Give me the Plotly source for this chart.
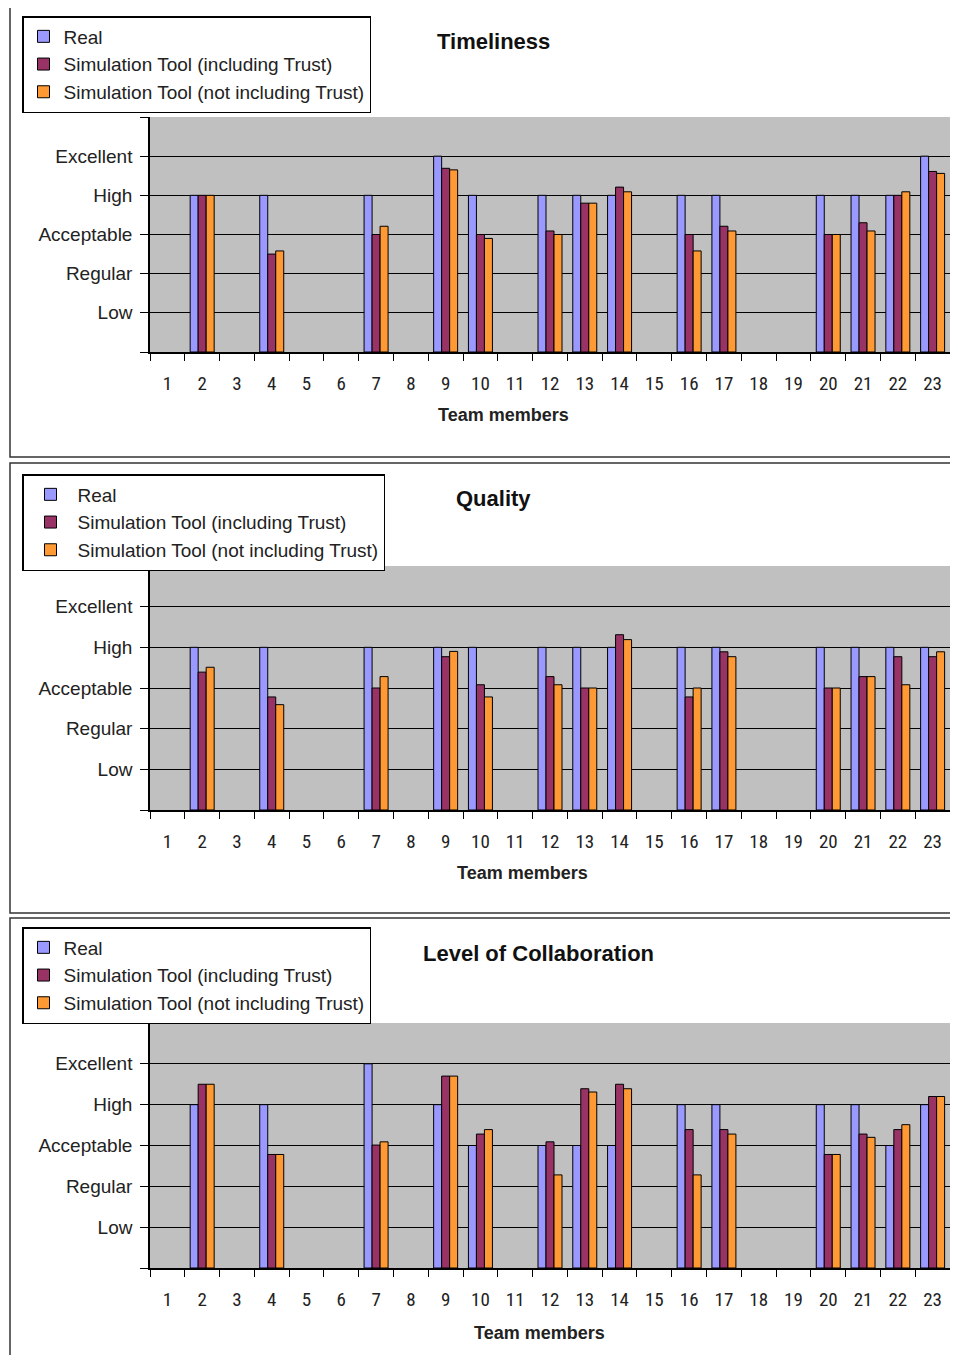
import plotly.graph_objects as go

OFF = 8  # default page body margin
W, H = 958 - 2 * OFF, 1363 - 2 * OFF

members = [str(i) for i in range(1, 24)]
level_labels = ["Low", "Regular", "Acceptable", "High", "Excellent"]
series_names = ["Real", "Simulation Tool (including Trust)", "Simulation Tool (not including Trust)"]
series_colors = ["#9999FF", "#993366", "#FF9933"]
x_title = "Team members"

N = None
# Timeliness
time_real = [N, 4, N, 4, N, N, 4, N, 5, 4, N, 4, 4, 4, N, 4, 4, N, N, 4, 4, 4, 5]
time_incl = [N, 4, N, 2.5, N, N, 3.0, N, 4.69, 3.0, N, 3.09, 3.8, 4.21, N, 3.0, 3.21, N, N, 3.0, 3.3, 4.0, 4.61]
time_not = [N, 4, N, 2.58, N, N, 3.21, N, 4.65, 2.9, N, 3.0, 3.8, 4.09, N, 2.58, 3.09, N, N, 3.0, 3.09, 4.09, 4.56]
# Quality
qual_real = [N, 4, N, 4, N, N, 4, N, 4, 4, N, 4, 4, 4, N, 4, 4, N, N, 4, 4, 4, 4]
qual_incl = [N, 3.39, N, 2.78, N, N, 3.0, N, 3.77, 3.08, N, 3.28, 3.0, 4.31, N, 2.78, 3.89, N, N, 3.0, 3.28, 3.77, 3.77]
qual_not = [N, 3.51, N, 2.59, N, N, 3.28, N, 3.9, 2.78, N, 3.08, 3.0, 4.19, N, 3.0, 3.77, N, N, 3.0, 3.28, 3.08, 3.89]
# Level of Collaboration
coll_real = [N, 4, N, 4, N, N, 5, N, 4, 3, N, 3, 3, 3, N, 4, 4, N, N, 4, 4, 3, 4]
coll_incl = [N, 4.5, N, 2.78, N, N, 3.01, N, 4.7, 3.28, N, 3.09, 4.39, 4.5, N, 3.39, 3.39, N, N, 2.78, 3.28, 3.39, 4.2]
coll_not = [N, 4.5, N, 2.78, N, N, 3.09, N, 4.7, 3.39, N, 2.28, 4.31, 4.39, N, 2.28, 3.28, N, N, 2.78, 3.2, 3.51, 4.2]

panels = [
    dict(title="Timeliness", data=[time_real, time_incl, time_not],
         plot=(150, 950, 117, 352), frame=(10, 975, 7, 457),
         legend=(22, 16), itemw=30, title_pos=(493, 41), xt_pos=(503, 415)),
    dict(title="Quality", data=[qual_real, qual_incl, qual_not],
         plot=(150, 950, 566, 810), frame=(10, 975, 463, 913),
         legend=(22, 474), itemw=44, title_pos=(493, 498), xt_pos=(522, 873)),
    dict(title="Level of Collaboration", data=[coll_real, coll_incl, coll_not],
         plot=(150, 950, 1023, 1268), frame=(10, 975, 918, 1380),
         legend=(22, 927), itemw=30, title_pos=(538, 953), xt_pos=(539, 1333)),
]

def px(x):
    return (x - OFF) / W

def py(y):
    return 1 - (y - OFF) / H

fig = go.Figure()
layout = dict(
    width=W, height=H, margin=dict(l=0, r=0, t=0, b=0, pad=0),
    paper_bgcolor="white", plot_bgcolor="#C0C0C0",
    barmode="group", bargap=0.31, bargroupgap=0,
    font=dict(family="Liberation Sans, Arial, sans-serif", color="#222222"),
    shapes=[], annotations=[],
)

for i, p in enumerate(panels):
    k = "" if i == 0 else str(i + 1)
    lg = "legend" + k
    for name, vals, col in zip(series_names, p["data"], series_colors):
        fig.add_trace(go.Bar(
            x=members, y=vals, name=name, marker=dict(color=col, line=dict(color="black", width=1)),
            xaxis="x" + k, yaxis="y" + k, legend=lg, offsetgroup=name,
        ))
    x0, x1, y0, y1 = p["plot"]
    layout["xaxis" + k] = dict(
        domain=[px(x0), px(x1)], anchor="y" + k, type="category",
        categoryorder="array", categoryarray=members,
        tickson="boundaries", ticks="outside", ticklen=7, tickcolor="black",
        showline=True, linecolor="black", linewidth=1.5, showgrid=False,
        tickfont=dict(family="Liberation Sans Narrow, Arial Narrow, Roboto Condensed, Liberation Sans, sans-serif", size=19, color="#222"),
        ticklabelstandoff=13,
    )
    layout["yaxis" + k] = dict(
        domain=[py(y1), py(y0)], anchor="x" + k, range=[0, 6],
        tickvals=[1, 2, 3, 4, 5], ticktext=level_labels,
        ticks="outside", ticklen=8, tickcolor="black",
        showline=True, linecolor="black", linewidth=1.5,
        showgrid=True, gridcolor="black", gridwidth=1.2, zeroline=False,
        minor=dict(tickvals=[0, 6], ticks="outside", ticklen=8, tickcolor="black", showgrid=False),
        tickfont=dict(size=19, color="#222"), ticklabelstandoff=4,
    )
    lx, ly = p["legend"]
    layout[lg] = dict(
        x=px(lx), y=py(ly), xanchor="left", yanchor="top", xref="paper", yref="paper",
        bgcolor="white", bordercolor="black", borderwidth=1.5,
        font=dict(size=19, color="#222"), traceorder="normal",
        itemclick=False, itemdoubleclick=False, tracegroupgap=2, itemwidth=p["itemw"],
    )
    fx0, fx1, fy0, fy1 = p["frame"]
    layout["shapes"].append(dict(type="rect", xref="paper", yref="paper",
                                 x0=px(fx0), x1=px(fx1), y0=py(fy1), y1=py(fy0),
                                 line=dict(color="#333", width=1.5), layer="below"))
    tx, ty = p["title_pos"]
    layout["annotations"].append(dict(text="<b>%s</b>" % p["title"], x=px(tx), y=py(ty),
                                      xref="paper", yref="paper", showarrow=False,
                                      font=dict(size=22, color="#111"), xanchor="center", yanchor="middle"))
    ax, ay = p["xt_pos"]
    layout["annotations"].append(dict(text="<b>%s</b>" % x_title, x=px(ax), y=py(ay),
                                      xref="paper", yref="paper", showarrow=False,
                                      font=dict(size=18, color="#222"), xanchor="center", yanchor="middle"))

fig.update_layout(**layout)
fig.write_html("out.html")
